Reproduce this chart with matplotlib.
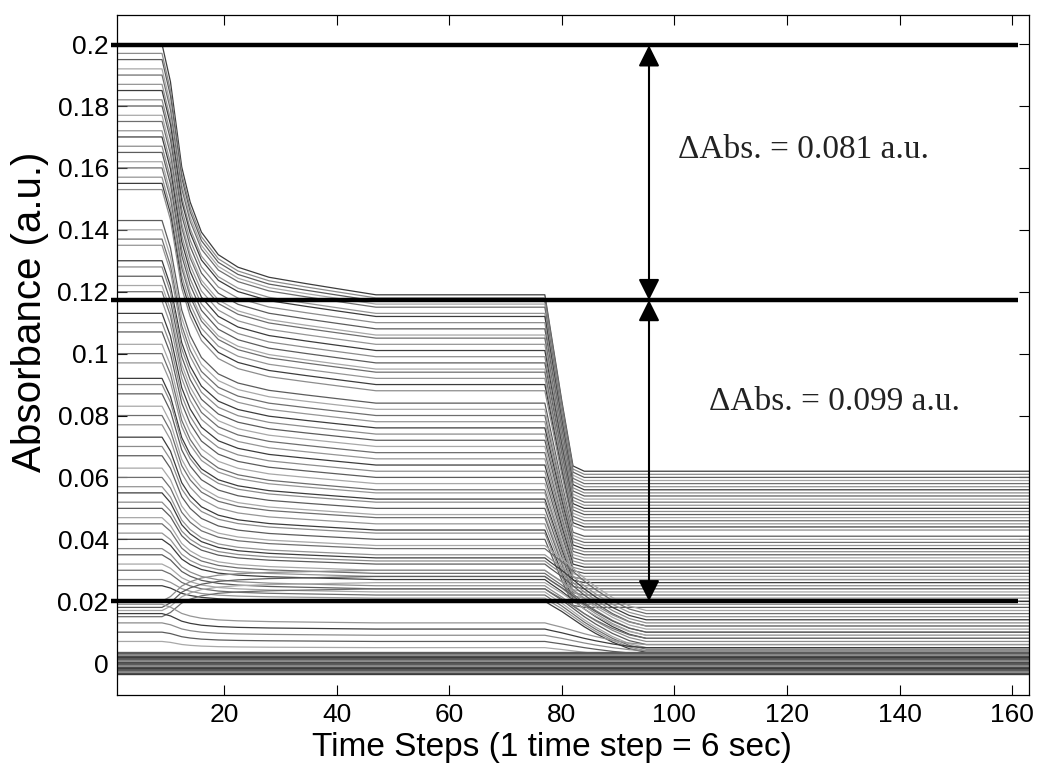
import numpy as np
import matplotlib
matplotlib.use("Agg")
import matplotlib.pyplot as plt

knot_steps = [1, 9, 10.5, 12.5, 14, 16, 19, 22.5, 28, 34.5, 40, 47, 77, 78, 80, 82, 84, 86, 89, 92, 95, 163]
# fraction of the first drop completed at each knot
drop1_frac = [0, 0, 0.15, 0.49, 0.63, 0.75, 0.84, 0.89, 0.93, 0.955, 0.975, 1, 1, 1, 1, 1, 1, 1, 1, 1, 1, 1]
# fraction of the second drop completed, upper traces (steep) and lower traces (slow fan)
drop2_fast = [0, 0, 0, 0, 0, 0, 0, 0, 0, 0, 0, 0, 0, 0.2, 0.6, 0.97, 1, 1, 1, 1, 1, 1]
drop2_slow = [0, 0, 0, 0, 0, 0, 0, 0, 0, 0, 0, 0, 0, 0.07, 0.2, 0.35, 0.5, 0.63, 0.8, 0.93, 1, 1]

# absorbance of each trace before step 9, on the plateau (30-76) and after step 95
start_abs = [0.200, 0.197, 0.195, 0.192, 0.190, 0.187, 0.185, 0.182, 0.180, 0.177,
             0.175, 0.172, 0.170, 0.167, 0.165, 0.162, 0.160, 0.157, 0.155, 0.153,
             0.143, 0.140, 0.137, 0.135, 0.130, 0.128, 0.125, 0.122, 0.120, 0.117,
             0.113, 0.110, 0.107, 0.103, 0.100,
             0.097, 0.092, 0.090, 0.087, 0.083, 0.080, 0.077, 0.073, 0.070, 0.067,
             0.063, 0.060, 0.057, 0.055, 0.052, 0.050, 0.047, 0.045, 0.042, 0.040,
             0.037, 0.035, 0.032, 0.030, 0.027, 0.025,
             0.020, 0.018, 0.017, 0.015, 0.019, 0.016, 0.013, 0.010, 0.007]
plateau_abs = [0.119, 0.118, 0.117, 0.116, 0.115, 0.113, 0.112, 0.110, 0.108, 0.106,
               0.105, 0.103, 0.101, 0.099, 0.097, 0.095, 0.094, 0.092, 0.090, 0.088,
               0.084, 0.082, 0.080, 0.078, 0.076, 0.074, 0.072, 0.070, 0.068, 0.066,
               0.064, 0.062, 0.060, 0.058, 0.056,
               0.055, 0.053, 0.052, 0.050, 0.048, 0.047, 0.045, 0.043, 0.042, 0.040,
               0.038, 0.037, 0.035, 0.034, 0.033, 0.032, 0.030, 0.029, 0.028, 0.027,
               0.025, 0.024, 0.023, 0.022, 0.021, 0.020,
               0.030, 0.028, 0.026, 0.024, 0.013, 0.011, 0.009, 0.007, 0.005]
final_abs = [0.062, 0.061, 0.060, 0.059, 0.058, 0.057, 0.056, 0.055, 0.054, 0.053,
             0.052, 0.051, 0.050, 0.049, 0.048, 0.047, 0.046, 0.045, 0.044, 0.043,
             0.041, 0.040, 0.039, 0.038, 0.037, 0.036, 0.035, 0.034, 0.033, 0.032,
             0.031, 0.030, 0.029, 0.028, 0.027,
             0.027, 0.026, 0.025, 0.024, 0.023, 0.022, 0.021, 0.020, 0.019, 0.018,
             0.017, 0.016, 0.015, 0.014, 0.013, 0.012, 0.011, 0.010, 0.009, 0.008,
             0.007, 0.006, 0.005, 0.0045, 0.004, 0.0035,
             0.012, 0.010, 0.009, 0.008, 0.006, 0.005, 0.004, 0.003, 0.002]
# traces that stay at zero the whole time (dark band)
band_abs = [-0.0034, -0.0028, -0.0022, -0.0016, -0.0010, -0.0004, 0.0002, 0.0008, 0.0014, 0.0020, 0.0026, 0.0032]

# reference levels and the two differences
ref_levels = [0.1996, 0.1173, 0.0200]
delta_labels = ["\u0394Abs. = 0.081 a.u.", "\u0394Abs. = 0.099 a.u."]

xticks = [20, 40, 60, 80, 100, 120, 140, 160]
yticks = [0, 0.02, 0.04, 0.06, 0.08, 0.1, 0.12, 0.14, 0.16, 0.18, 0.2]
ytick_labels = ["0", "0.02", "0.04", "0.06", "0.08", "0.1", "0.12", "0.14", "0.16", "0.18", "0.2"]

plt.rcParams["font.family"] = ["Liberation Sans", "DejaVu Sans"]

fig = plt.figure(figsize=(10.37, 7.66), dpi=100)
ax = fig.add_axes([0.1128, 0.0927, 0.8795, 0.8877])

grays = ["#3c3c3c", "#8c8c8c", "#5c5c5c", "#a8a8a8", "#6e6e6e", "#959595"]
t = np.array(knot_steps)
f1 = np.array(drop1_frac)
for i, (a, b, c) in enumerate(zip(start_abs, plateau_abs, final_abs)):
    f2 = np.array(drop2_fast if b >= 0.04 else drop2_slow)
    y = a + (b - a) * f1 + (c - b) * f2
    ax.plot(t, y, color=grays[i % len(grays)], lw=0.9)

for i, lv in enumerate(band_abs):
    ax.plot([knot_steps[0], knot_steps[-1]], [lv, lv], color=grays[i % 3], lw=1.7)

for lv in ref_levels:
    ax.plot([0, 161], [lv, lv], color="black", lw=3.2, clip_on=False, solid_capstyle="butt")

arrow_x = 95.5
for lo, hi in [(ref_levels[1], ref_levels[0]), (ref_levels[2], ref_levels[1])]:
    ax.annotate("", xy=(arrow_x, hi), xytext=(arrow_x, lo),
                arrowprops=dict(arrowstyle="<|-|>,head_length=0.4,head_width=0.2",
                                mutation_scale=32, lw=1.5, color="black",
                                shrinkA=0, shrinkB=0))

ax.text(123, 0.1658, delta_labels[0], family=["Liberation Serif"], fontsize=24,
        ha="center", va="center", color="#222222")
ax.text(128.5, 0.0843, delta_labels[1], family=["Liberation Serif"], fontsize=24,
        ha="center", va="center", color="#222222")

ax.set_xlim(1, 163)
ax.set_ylim(-0.0103, 0.2094)
ax.set_xticks(xticks)
ax.set_yticks(yticks)
ax.set_yticklabels(ytick_labels)
ax.tick_params(direction="in", length=7, width=0.8, top=True, right=True,
               labelsize=19, pad=6)
for s in ax.spines.values():
    s.set_linewidth(0.9)

ax.set_xlabel("Time Steps (1 time step = 6 sec)", fontsize=24, labelpad=2)
ax.xaxis.set_label_coords(0.477, -0.055)
ax.set_ylabel("Absorbance (a.u.)", fontsize=29, labelpad=0)
ax.yaxis.set_label_coords(-0.074, 0.563)

fig.savefig("out.png", dpi=100)
